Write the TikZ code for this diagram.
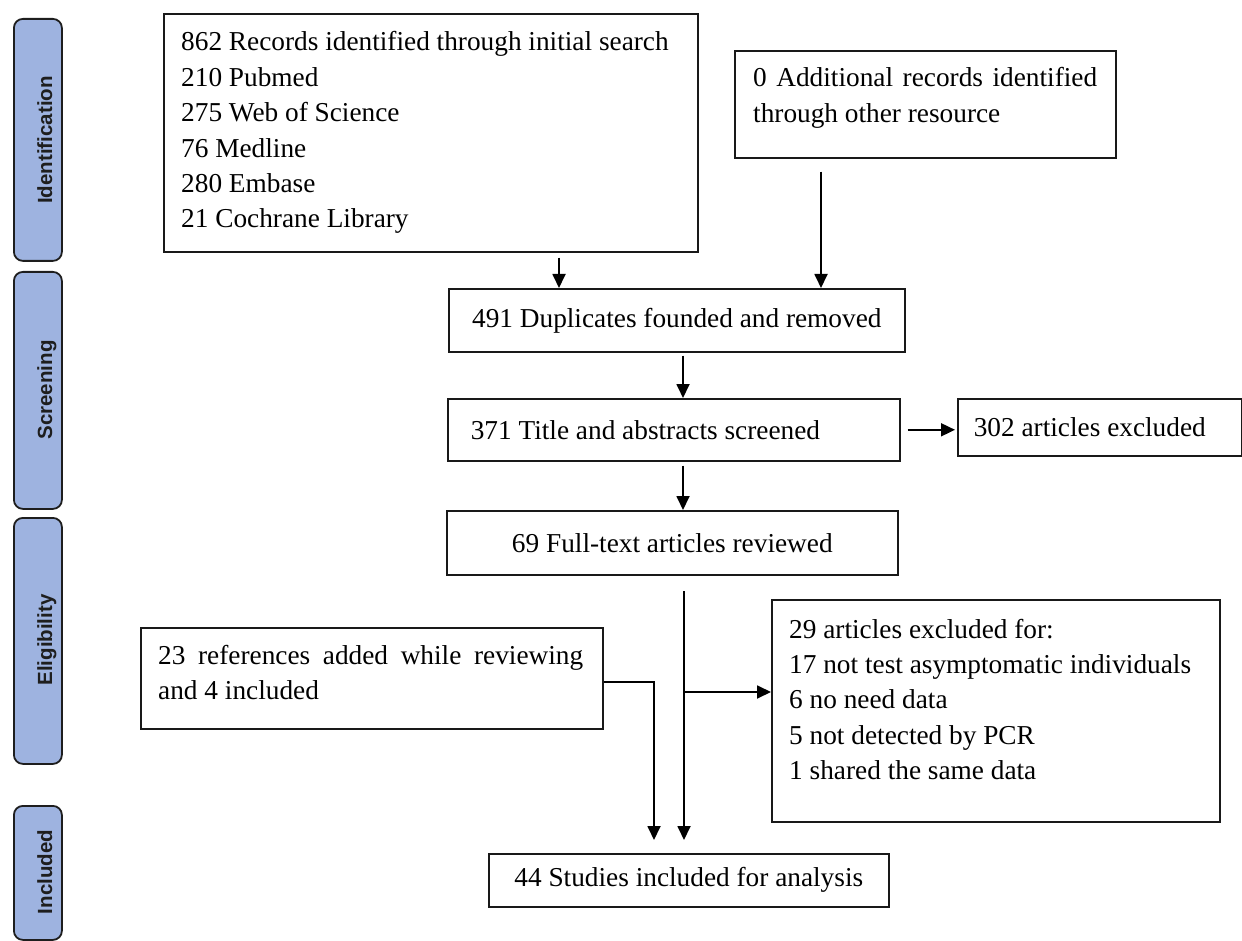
\documentclass[tikz,border=0pt]{standalone}
\usepackage{fontspec}
\setmainfont{Liberation Serif}
\newfontfamily\sidefont{Liberation Sans}
\usetikzlibrary{arrows.meta,calc}
\definecolor{sidefill}{RGB}{158,179,224}
\definecolor{sideline}{RGB}{30,30,30}
\begin{document}
\begin{tikzpicture}[x=1pt,y=-1pt,
  box/.style={draw=black!90, line width=1.6pt, inner sep=0pt},
  txt/.style={inner sep=0pt, font=\fontsize{27.3}{35.4}\selectfont},
  sidebar/.style={draw=sideline, line width=1.8pt, fill=sidefill, rounded corners=9pt,
    minimum width=48, inner sep=0pt, anchor=north west},
  sidetxt/.style={rotate=90, anchor=base, inner sep=0pt,
    font=\sidefont\bfseries\fontsize{20.5}{24}\selectfont, text=sideline},
  arr/.style={line width=1.8pt, draw=black, -{Triangle[length=14pt,width=13pt]}},
]
\useasboundingbox (0,0) rectangle (1242,941);

% side bars
\node[sidebar, minimum height=242] (s1) at (13,18) {};
\node[sidebar, minimum height=237] (s2) at (13,271) {};
\node[sidebar, minimum height=246] (s3) at (13,517) {};
\node[sidebar, minimum height=134] (s4) at (13,805) {};
\node[sidetxt] (s1t) at (52,140) {Identification};
\node[sidetxt] (s2t) at (52,390) {Screening};
\node[sidetxt] (s3t) at (52,640) {Eligibility};
\node[sidetxt] (s4t) at (52,872) {Included};

% boxes
\node[box, anchor=north west, minimum width=534, minimum height=238] (b1) at (163,13) {};
\node[txt, anchor=base west, text width=505, align=flush left] (b1t) at (181,51)
  {862 Records identified through initial search\\210 Pubmed\\275 Web of Science\\76 Medline\\280 Embase\\21 Cochrane Library};

\node[box, anchor=north west, minimum width=381, minimum height=107] (b2) at (734,50) {};
\node[txt, anchor=base west, text width=344, align=justify] (b2t) at (753,87)
  {0 Additional records identified\linebreak through other resource};

\node[box, txt, anchor=north west, minimum width=456, minimum height=63] (b3) at (448,288)
  {491 Duplicates founded and removed};

\node[box, txt, anchor=north west, minimum width=452, minimum height=62, inner xsep=23,
  text width=406, align=flush left] (b4) at (447,398) {371 Title and abstracts screened};

\node[box, txt, anchor=north west, minimum width=284, minimum height=57, inner xsep=16,
  text width=252, align=flush left] (b5) at (957,398) {302 articles excluded};

\node[box, txt, anchor=north west, minimum width=451, minimum height=64] (b6) at (446,510)
  {69 Full-text articles reviewed};

\node[box, anchor=north west, minimum width=462, minimum height=101] (b7) at (140,627) {};
\node[txt, anchor=base west, text width=425, align=justify] (b7t) at (158,664)
  {23 references added while reviewing\linebreak and 4 included};

\node[box, anchor=north west, minimum width=448, minimum height=222] (b8) at (771,599) {};
\node[txt, anchor=base west, text width=420, align=flush left] (b8t) at (789,638)
  {29 articles excluded for:\\17 not test asymptomatic individuals\\6 no need data\\5 not detected by PCR\\1 shared the same data};

\node[box, txt, anchor=north west, minimum width=400, minimum height=53] (b9) at (488,853)
  {44 Studies included for analysis};

% connectors
\coordinate (x1) at (559,0);
\coordinate (x2) at (821,0);
\coordinate (xm) at (683,0);
\coordinate (a6s) at (684,591);
\coordinate (br) at (684,692);
\coordinate (c7) at (654,682);

\draw[arr, shorten <=5pt] (b1.south -| x1) -- (b3.north -| x1);
\draw[arr, shorten <=13pt] (b2.south -| x2) -- (b3.north -| x2);
\draw[arr, shorten <=3pt] (b3.south -| xm) -- (b4.north -| xm);
\draw[arr, shorten <=7pt, shorten >=2pt] (b4.east) -- (b4.east -| b5.west);
\draw[arr, shorten <=4pt] (b4.south -| xm) -- (b6.north -| xm);
\draw[arr, shorten >=13pt] (a6s) -- (a6s |- b9.north);
\draw[arr] (br) -- (br -| b8.west);
\draw[arr, shorten >=13pt] (b7.east |- c7) -- (c7) -- (c7 |- b9.north);
\end{tikzpicture}
\end{document}
